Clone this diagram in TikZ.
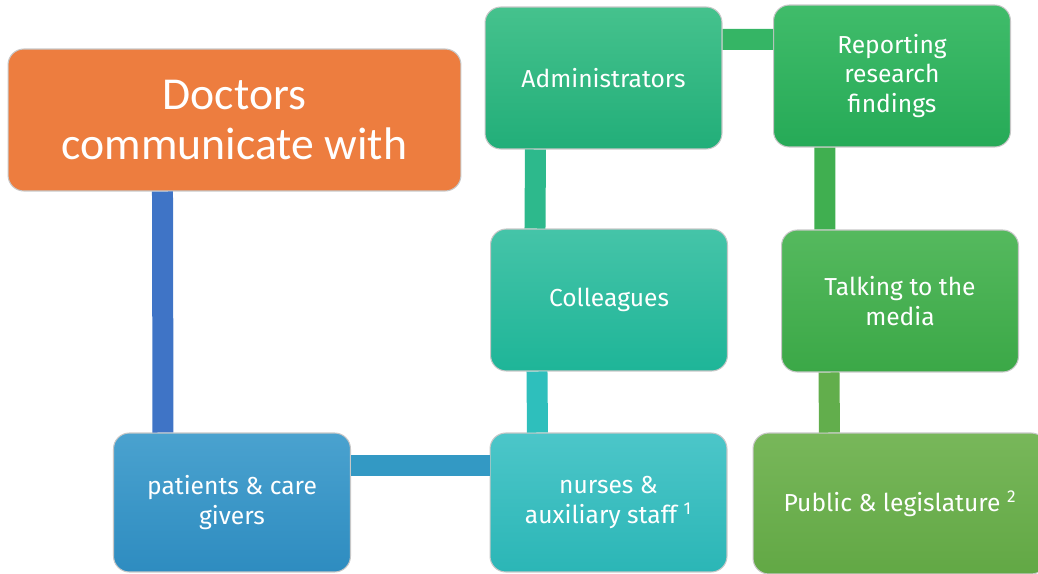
\documentclass[tikz,border=0pt]{standalone}
\usepackage{fontspec}
\setmainfont{Fira Sans}
\newfontfamily\titlefont{Carlito}

\definecolor{docOrange}{HTML}{ED7D3F}
\definecolor{admTop}{HTML}{45C28D}
\definecolor{admBot}{HTML}{22AE79}
\definecolor{repTop}{HTML}{40BC6A}
\definecolor{repBot}{HTML}{26AA57}
\definecolor{collTop}{HTML}{45C4A8}
\definecolor{collBot}{HTML}{1EB598}
\definecolor{talkTop}{HTML}{55B95E}
\definecolor{talkBot}{HTML}{3BA847}
\definecolor{patTop}{HTML}{4AA2CF}
\definecolor{patBot}{HTML}{2E8CC0}
\definecolor{nurTop}{HTML}{4CC6C9}
\definecolor{nurBot}{HTML}{2BB6B6}
\definecolor{pubTop}{HTML}{78B75A}
\definecolor{pubBot}{HTML}{62A845}
\definecolor{barBlue}{HTML}{3F74C6}
\definecolor{barSky}{HTML}{3399C4}
\definecolor{barCyan}{HTML}{2EBFBC}
\definecolor{barTeal}{HTML}{2DB98C}
\definecolor{barGreen}{HTML}{35B565}
\definecolor{barLeaf}{HTML}{40AF50}
\definecolor{barLime}{HTML}{62AE4C}

\tikzset{
  box/.style={draw=black!22, line width=0.6pt, rounded corners=9pt,
    text=white, align=center, inner sep=2pt,
    minimum width=4.74cm, minimum height=2.84cm,
    font=\fontsize{14}{17}\selectfont},
  bar/.style={line width=0.42cm, line cap=butt}
}

\begin{document}
\begin{tikzpicture}[x=0.02cm,y=-0.02cm]
      \clip (0,0) rectangle (1038,574);
      \draw
        (234.5,120) node[box, fill=docOrange, minimum width=9.06cm,
          font=\titlefont\fontsize{26}{28.5}\selectfont] (doc){Doctors\\communicate with}
        (603.5,78) node[box, top color=admTop, bottom color=admBot] (adm){Administrators}
        (892,76) node[box, top color=repTop, bottom color=repBot] (rep){Reporting\\research\\findings}
        (609,300) node[box, top color=collTop, bottom color=collBot] (coll){Colleagues}
        (900,301) node[box, top color=talkTop, bottom color=talkBot] (talk){Talking to the\\media}
        (232,502.5) node[box, minimum height=2.78cm, top color=patTop, bottom color=patBot] (pat){patients \& care\\givers}
        (608.5,502.5) node[box, minimum height=2.78cm, top color=nurTop, bottom color=nurBot] (nur){nurses \&\\auxiliary staff \textsuperscript{1}}
        (900,503.5) node[box, minimum width=5.88cm, minimum height=2.82cm,
          top color=pubTop, bottom color=pubBot] (pub){Public \& legislature \textsuperscript{2}};
      \begin{scope}[bar]
        \draw[barBlue] ([xshift=3.1cm]doc.south west) to ([xshift=1cm]pat.north west);
        \draw[barSky] ([yshift=-0.66cm]pat.north east) to ([yshift=-0.66cm]nur.north west);
        \draw[barCyan] ([xshift=0.94cm]coll.south west) to ([xshift=0.96cm]nur.north west);
        \draw[barTeal] ([xshift=1.02cm]adm.south west) to ([xshift=0.9cm]coll.north west);
        \draw[barGreen] ([yshift=-0.66cm]adm.north east) to ([yshift=-0.7cm]rep.north west);
        \draw[barLeaf] ([xshift=1.04cm]rep.south west) to ([xshift=0.88cm]talk.north west);
        \draw[barLime] ([xshift=0.96cm]talk.south west) to ([xshift=1.54cm]pub.north west);
      \end{scope}
    \end{tikzpicture}
\end{document}
